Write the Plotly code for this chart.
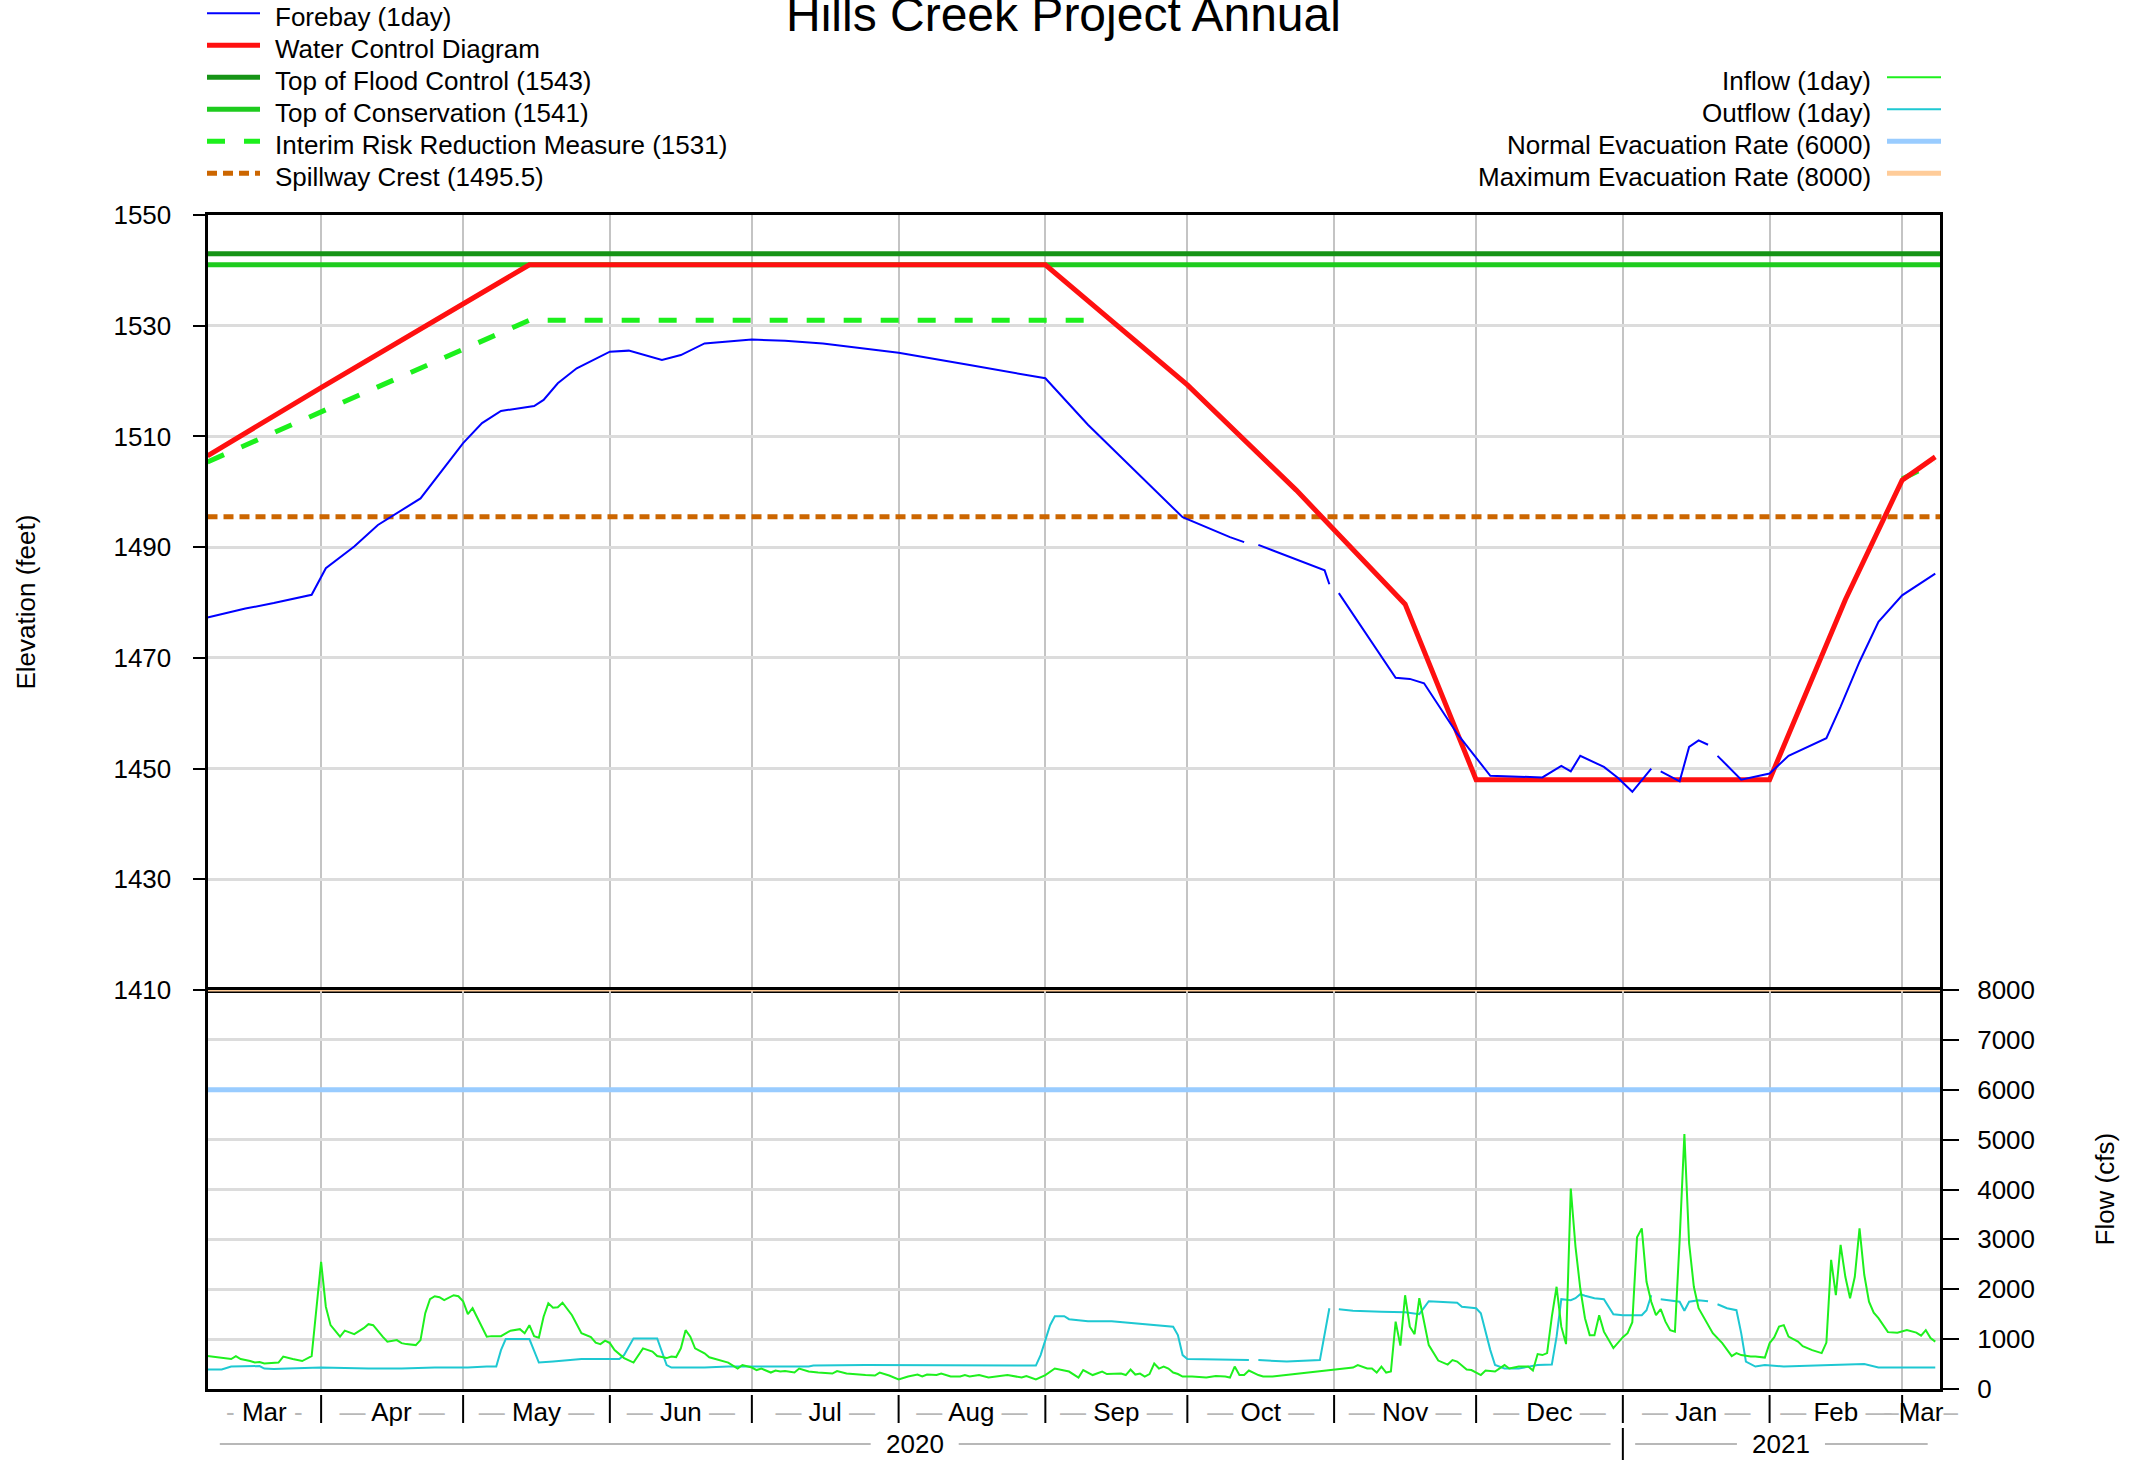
import pandas as pd
import plotly.graph_objects as go

W, H = 2141, 1460
START = pd.Timestamp("2020-03-08")
END = pd.Timestamp("2021-03-09")

# forebay elevation (ft) by day after START, None = missing
forebay_day = [0, 8, 14, 22, 25, 31, 36, 45, 54, 58, 62, 69, 71, 74, 78, 85, 89, 96, 100, 105,
               115, 122, 130, 146, 161, 177, 186, 206, 216, 219, 220, 222, 236, 237, 238, 239,
               251, 254, 257, 264, 271, 282, 286, 288, 290, 295, 298, 301, 305, 306, 307, 311,
               313, 315, 317, 318, 319, 324, 330, 334, 342, 345, 349, 353, 358, 365]
forebay_ft = [1477.3, 1478.9, 1479.9, 1481.4, 1486.2, 1490.1, 1494.0, 1498.8, 1508.8, 1512.4,
              1514.6, 1515.5, 1516.6, 1519.6, 1522.3, 1525.3, 1525.5, 1523.8, 1524.7, 1526.8,
              1527.5, 1527.3, 1526.8, 1525.1, 1522.9, 1520.5, 1512.1, 1495.4, 1491.8, 1490.9,
              None, 1490.4, 1485.8, 1483.3, None, 1481.7, 1466.4, 1466.2, 1465.4, 1456.3,
              1448.7, 1448.4, 1450.5, 1449.5, 1452.3, 1450.3, 1448.3, 1445.8, 1450.0, None,
              1449.5, 1447.7, 1453.9, 1455.1, 1454.3, None, 1452.3, 1448.0, 1449.1, 1452.3,
              1455.5, 1461.2, 1469.3, 1476.5, 1481.3, 1485.2]

wcd_day = [0, 24, 68, 177, 207, 230, 253, 268, 330, 346, 358, 365]
wcd_ft = [1506.5, 1518.8, 1541, 1541, 1519.3, 1500.3, 1479.7, 1448, 1448, 1480.5, 1502.1, 1506.3]

irrm_day = [0, 68, 187, 188, 358, 365]
irrm_ft = [1505.4, 1531, 1531, None, 1502.3, 1505.3]

FLOOD_CONTROL = 1543
CONSERVATION = 1541
SPILLWAY = 1495.5
NORMAL_EVAC = 6000
MAX_EVAC = 8000

inflow_day = [0, 3, 5, 6, 7, 9, 10, 11, 12, 15, 16, 18, 20, 22, 23, 24, 25, 26, 28, 29, 31, 33, 34,
              35, 37, 38, 40, 41, 42, 44, 45, 46, 47, 48, 49, 50, 52, 53, 54, 55, 56, 58, 59, 60,
              62, 64, 66, 67, 68, 69, 70, 71, 72, 73, 74, 75, 77, 79, 81, 82, 83, 84, 85, 86, 88,
              90, 92, 94, 95, 97, 98, 99, 100, 101, 102, 103, 105, 106, 108, 110, 112, 113, 115,
              116, 117, 119, 120, 121, 122, 124, 125, 127, 129, 132, 133, 135, 139, 141, 142, 144,
              146, 148, 150, 151, 152, 154, 155, 157, 159, 160, 161, 163, 165, 167, 169, 172, 173,
              175, 177, 179, 181, 182, 184, 185, 187, 189, 190, 193, 194, 195, 196, 197, 198, 199,
              200, 201, 202, 203, 204, 205, 206, 208, 211, 213, 215, 216, 217, 218, 219, 220, 222,
              223, 225, 242, 243, 245, 246, 247, 248, 249, 250, 251, 252, 253, 254, 255, 256, 257,
              258, 260, 262, 263, 264, 266, 267, 269, 270, 272, 274, 275, 277, 279, 280, 281, 282,
              283, 284, 285, 286, 287, 288, 289, 290, 291, 292, 293, 294, 295, 297, 299, 300, 301,
              302, 303, 304, 305, 306, 307, 308, 309, 310, 311, 312, 313, 314, 315, 317, 318, 320,
              321, 322, 323, 324, 326, 327, 329, 330, 331, 332, 333, 334, 336, 337, 339, 341, 342,
              343, 344, 345, 346, 347, 348, 349, 350, 351, 352, 353, 355, 357, 359, 361, 362, 363,
              364, 365]
inflow_cfs = [660, 630, 600, 660, 600, 560, 530, 540, 510, 530, 650, 600, 560, 660, 1580, 2550,
              1650, 1280, 1050, 1170, 1100, 1220, 1300, 1280, 1050, 950, 980, 920, 900, 880, 980,
              1520, 1800, 1860, 1840, 1780, 1880, 1860, 1760, 1500, 1620, 1250, 1050, 1060, 1060,
              1170, 1200, 1120, 1280, 1060, 1030, 1450, 1720, 1630, 1640, 1730, 1480, 1120, 1040,
              930, 900, 970, 920, 780, 620, 530, 815, 750, 660, 620, 650, 640, 815, 1180, 1050,
              815, 715, 635, 580, 530, 410, 480, 430, 380, 410, 330, 370, 350, 360, 330, 410, 350,
              330, 310, 360, 310, 280, 270, 330, 270, 190, 250, 290, 250, 290, 280, 310, 250, 250,
              280, 250, 280, 230, 250, 280, 230, 260, 190, 280, 410, 360, 350, 230, 380, 280, 350,
              300, 310, 280, 390, 290, 310, 250, 300, 510, 410, 450, 410, 330, 300, 250, 250, 230,
              260, 250, 230, 450, 280, 280, 370, 280, 250, 250, 430, 480, 410, 410, 330, 450, 330,
              350, 1350, 870, 1880, 1250, 1100, 1820, 1320, 880, 570, 490, 580, 550, 390, 380, 280,
              370, 350, 480, 410, 450, 450, 370, 700, 680, 720, 1450, 2050, 1250, 900, 4020, 2850,
              2020, 1420, 1080, 1080, 1480, 1150, 820, 1040, 1120, 1340, 3040, 3220, 2150, 1750,
              1480, 1600, 1350, 1180, 1150, 2990, 5110, 2920, 2050, 1620, 1280, 1120, 920, 800,
              660, 720, 680, 650, 650, 630, 920, 1040, 1250, 1280, 1050, 950, 860, 780, 720, 930,
              2590, 1880, 2890, 2250, 1820, 2250, 3220, 2290, 1750, 1530, 1420, 1140, 1130, 1180,
              1130, 1070, 1180, 1020, 950]

outflow_day = [0, 3, 5, 8, 11, 12, 14, 17, 24, 34, 41, 48, 55, 59, 61, 62, 63, 68, 69, 70, 73, 76,
               79, 87, 88, 90, 95, 97, 98, 105, 110, 127, 128, 139, 175, 176, 178, 179, 181, 182,
               186, 191, 196, 201, 204, 205, 206, 207, 217, 220, 221, 222, 228, 235, 236, 237, 238,
               239, 242, 248, 253, 256, 258, 260, 264, 265, 268, 269, 271, 272, 274, 277, 281, 284,
               285, 286, 288, 289, 290, 291, 293, 295, 297, 299, 303, 304, 305, 306, 307, 311, 312,
               313, 315, 317, 318, 319, 321, 323, 324, 325, 327, 329, 333, 343, 350, 353, 365]
outflow_cfs = [390, 390, 450, 450, 460, 410, 400, 410, 430, 410, 410, 430, 430, 450, 450, 780,
               1000, 1000, 750, 530, 550, 580, 600, 600, 680, 1015, 1015, 480, 430, 430, 450, 450,
               470, 480, 470, 680, 1280, 1460, 1460, 1400, 1360, 1360, 1320, 1270, 1250, 1080, 680,
               600, 580, 580, None, 580, 550, 580, 1120, 1620, None, 1600, 1570, 1550, 1540, 1500,
               1760, 1750, 1730, 1650, 1620, 1520, 780, 480, 410, 410, 480, 490, 1050, 1800, 1780,
               1820, 1900, 1870, 1820, 1800, 1500, 1480, 1480, 1580, 1880, None, 1800, 1750, 1570,
               1750, 1780, 1760, None, 1700, 1620, 1580, 1120, 550, 450, 480, 450, 480, 500, 430,
               430]


def dates(days):
    return [START + pd.Timedelta(days=d) for d in days]


def px(x):
    return x / W


def py(y):
    return 1 - y / H


span = [START, END]
fig = go.Figure()

# elevation panel
fig.add_trace(go.Scatter(x=span, y=[CONSERVATION] * 2, mode="lines", name="Top of Conservation (1541)",
                         line=dict(color="#1ecb1e", width=5), xaxis="x", yaxis="y"))
fig.add_trace(go.Scatter(x=span, y=[FLOOD_CONTROL] * 2, mode="lines", name="Top of Flood Control (1543)",
                         line=dict(color="#169416", width=5), xaxis="x", yaxis="y"))
fig.add_trace(go.Scatter(x=span, y=[SPILLWAY] * 2, mode="lines", name="Spillway Crest (1495.5)",
                         line=dict(color="#cc6600", width=5, dash="10px,6px"), xaxis="x", yaxis="y"))
fig.add_trace(go.Scatter(x=dates(irrm_day), y=irrm_ft, mode="lines",
                         name="Interim Risk Reduction Measure (1531)",
                         line=dict(color="#1cf01c", width=5, dash="18px,19px"), xaxis="x", yaxis="y"))
fig.add_trace(go.Scatter(x=dates(wcd_day), y=wcd_ft, mode="lines", name="Water Control Diagram",
                         line=dict(color="#ff1010", width=5), xaxis="x", yaxis="y"))
fig.add_trace(go.Scatter(x=dates(forebay_day), y=forebay_ft, mode="lines", name="Forebay (1day)",
                         line=dict(color="#0000ff", width=2), xaxis="x", yaxis="y"))

# flow panel
fig.add_trace(go.Scatter(x=span, y=[NORMAL_EVAC] * 2, mode="lines", name="Normal Evacuation Rate (6000)",
                         line=dict(color="#99ccff", width=5), xaxis="x2", yaxis="y2"))
fig.add_trace(go.Scatter(x=span, y=[MAX_EVAC] * 2, mode="lines", name="Maximum Evacuation Rate (8000)",
                         line=dict(color="#ffcc99", width=3), xaxis="x2", yaxis="y2"))
fig.add_trace(go.Scatter(x=dates(outflow_day), y=outflow_cfs, mode="lines", name="Outflow (1day)",
                         line=dict(color="#1ec8d2", width=2), xaxis="x2", yaxis="y2"))
fig.add_trace(go.Scatter(x=dates(inflow_day), y=inflow_cfs, mode="lines", name="Inflow (1day)",
                         line=dict(color="#1ef01e", width=2), xaxis="x2", yaxis="y2"))

# month axis labels, centred in each month segment
month_starts = list(pd.date_range("2020-04-01", "2021-03-01", freq="MS"))
bounds = [START] + month_starts + [END]
GRAY = "#b8b8b8"
label_pos, label_txt = [], []
for i in range(len(bounds) - 1):
    a, b = bounds[i], bounds[i + 1]
    label_pos.append(a + (b - a) / 2)
    m = a.strftime("%b")
    if i == 0:
        d, sp = "-", " "
    elif i == len(bounds) - 2:
        d, sp = "–", ""
    else:
        d, sp = "—", " "
    label_txt.append(f"<span style='color:{GRAY}'>{d}</span>{sp}{m}{sp}<span style='color:{GRAY}'>{d}</span>")

xdom = [px(207.5), px(1940)]
up_dom = [py(990), py(215)]
lo_dom = [py(1389), py(990)]
GRID_V = "#c4c4c4"
GRID_H = "#dcdcdc"
frame = dict(showline=True, linecolor="black", linewidth=3, mirror=True, zeroline=False, automargin=False)

fig.update_layout(
    template="none",
    width=W, height=H,
    margin=dict(l=0, r=0, t=0, b=0, pad=0),
    paper_bgcolor="white", plot_bgcolor="white",
    showlegend=False,
    font=dict(family="Liberation Sans, Arial, sans-serif", size=26, color="black"),
    xaxis=dict(anchor="y", type="date", range=span, domain=xdom, tickvals=month_starts,
               showticklabels=False, ticks="", showgrid=True, gridcolor=GRID_V, gridwidth=2, **frame),
    xaxis2=dict(anchor="y2", matches="x", type="date", range=span, domain=xdom,
                tickvals=label_pos, ticktext=label_txt, ticks="", showgrid=False, tickangle=0,
                ticklabelstandoff=-2,
                minor=dict(tickvals=month_starts, ticks="", showgrid=True, gridcolor=GRID_V, gridwidth=2),
                **frame),
    yaxis=dict(domain=up_dom, anchor="x", range=[1410, 1550], tick0=1410, dtick=20,
               ticks="outside", ticklen=12, tickwidth=2, tickcolor="black",
               showgrid=True, gridcolor=GRID_H, gridwidth=3, ticklabelstandoff=16, **frame),
    yaxis2=dict(domain=lo_dom, anchor="x2", side="right", range=[0, 8000], tick0=0, dtick=1000,
                ticks="outside", ticklen=16, tickwidth=2, tickcolor="black",
                showgrid=True, gridcolor=GRID_H, gridwidth=3, ticklabelstandoff=13, **frame),
)

# month separators below the axis and the year separator
for ms in month_starts:
    fig.add_shape(type="line", xref="x2", yref="paper", x0=ms, x1=ms, y0=py(1395), y1=py(1423),
                  line=dict(color="black", width=2))
NEW_YEAR = pd.Timestamp("2021-01-01")
fig.add_shape(type="line", xref="x2", yref="paper", x0=NEW_YEAR, x1=NEW_YEAR, y0=py(1428), y1=py(1460),
              line=dict(color="black", width=2))

# year row
years = [("2020", START, NEW_YEAR), ("2021", NEW_YEAR, END)]
year_y = py(1444)
for label, a, b in years:
    c = a + (b - a) / 2
    fig.add_annotation(x=c, y=year_y, xref="x2", yref="paper", text=label, showarrow=False,
                       xanchor="center", yanchor="middle")
    for x0, x1 in [(a + pd.Timedelta(days=2.6), c - pd.Timedelta(days=9.4)),
                   (c + pd.Timedelta(days=9.2), b - pd.Timedelta(days=2.6))]:
        fig.add_shape(type="line", xref="x2", yref="paper", x0=x0, x1=x1, y0=year_y, y1=year_y,
                      line=dict(color=GRAY, width=2))

# title and axis titles
fig.add_annotation(x=px(1063), y=py(14), xref="paper", yref="paper", text="Hills Creek Project Annual",
                   showarrow=False, font=dict(size=48), xanchor="center", yanchor="middle")
fig.add_annotation(x=px(25), y=(up_dom[0] + up_dom[1]) / 2, xref="paper", yref="paper",
                   text="Elevation (feet)", textangle=-90, showarrow=False,
                   xanchor="center", yanchor="middle")
fig.add_annotation(x=px(2104), y=(lo_dom[0] + lo_dom[1]) / 2, xref="paper", yref="paper",
                   text="Flow (cfs)", textangle=-90, showarrow=False,
                   xanchor="center", yanchor="middle")

# legends, drawn from the traces' own styles
by_name = {t.name: t for t in fig.data}
left_entries = ["Forebay (1day)", "Water Control Diagram", "Top of Flood Control (1543)",
                "Top of Conservation (1541)", "Interim Risk Reduction Measure (1531)",
                "Spillway Crest (1495.5)"]
right_entries = ["Inflow (1day)", "Outflow (1day)", "Normal Evacuation Rate (6000)",
                 "Maximum Evacuation Rate (8000)"]
ROW0, STEP = 13.3, 32
for i, name in enumerate(left_entries):
    ln = by_name[name].line
    yl = ROW0 + i * STEP
    fig.add_shape(type="line", xref="paper", yref="paper", x0=px(207), x1=px(260), y0=py(yl), y1=py(yl),
                  line=dict(color=ln.color, width=ln.width, dash=ln.dash or "solid"))
    fig.add_annotation(x=px(273), y=py(yl + 4), xref="paper", yref="paper", text=name, showarrow=False,
                       xanchor="left", yanchor="middle")
for i, name in enumerate(right_entries):
    ln = by_name[name].line
    yl = ROW0 + (i + 2) * STEP
    fig.add_shape(type="line", xref="paper", yref="paper", x0=px(1887), x1=px(1941), y0=py(yl), y1=py(yl),
                  line=dict(color=ln.color, width=5 if ln.width > 2 else 2))
    fig.add_annotation(x=px(1873), y=py(yl + 4), xref="paper", yref="paper", text=name, showarrow=False,
                       xanchor="right", yanchor="middle")

fig.write_html("out.html", config={"displayModeBar": False},
               post_script="document.body.style.margin='0';document.body.style.overflow='hidden';")
